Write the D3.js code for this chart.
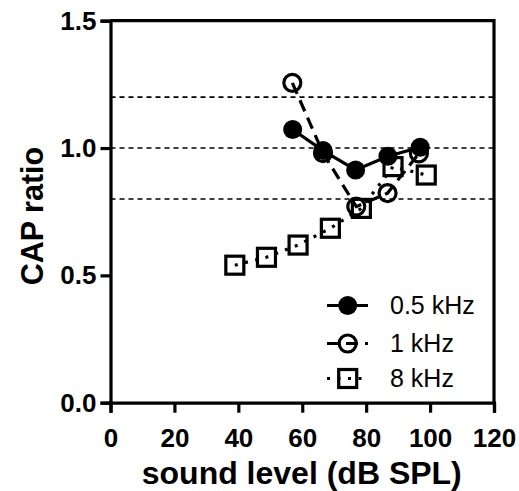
<!DOCTYPE html>
<html>
<head>
<meta charset="utf-8">
<script src="https://cdn.jsdelivr.net/npm/d3@7/dist/d3.min.js"></script>
<style>
  html, body { margin: 0; padding: 0; background: #fff; }
  svg { display: block; font-family: "Liberation Sans", Arial, sans-serif; }
</style>
</head>
<body>
<svg id="chart" width="519" height="491"></svg>
<script>
// CAP ratio versus sound level for three stimulus frequencies
const seriesNames = ["0.5 kHz", "1 kHz", "8 kHz"];
const levels05 = [57, 66.5, 76.7, 86.8, 96.9];
const ratio05  = [1.073, 0.99, 0.914, 0.968, 1.003];
const levels1  = [56.9, 66.5, 76.9, 86.7, 96.5];
const ratio1   = [1.256, 0.98, 0.77, 0.823, 0.979];
const levels8  = [38.9, 48.8, 58.7, 68.8, 78.5, 88.4, 98.8];
const ratio8   = [0.54, 0.571, 0.619, 0.685, 0.763, 0.927, 0.894];
const xTicks = [0, 20, 40, 60, 80, 100, 120];
const yTicks = [0.0, 0.5, 1.0, 1.5];
const refLines = [1.2, 1.0, 0.8];

const svg = d3.select("#chart");
const plotLeft = 110.5, plotRight = 494, plotTop = 20.7, plotBottom = 402.7;

const x = d3.scaleLinear().domain([0, 120]).range([plotLeft, plotRight]);
const y = d3.scaleLinear().domain([0, 1.5]).range([plotBottom, plotTop]);

// dashed reference lines
svg.append("g").selectAll("line").data(refLines).join("line")
  .attr("x1", plotLeft).attr("x2", plotRight)
  .attr("y1", d => y(d)).attr("y2", d => y(d))
  .attr("stroke", "#000").attr("stroke-width", 1.6)
  .attr("stroke-dasharray", "5,4");

// frame (top and right edges)
svg.append("path")
  .attr("d", `M${plotLeft},${plotTop}H${plotRight}V${plotBottom}`)
  .attr("fill", "none").attr("stroke", "#000").attr("stroke-width", 3.2);

// axes
const xAxis = svg.append("g").attr("transform", `translate(0,${plotBottom})`)
  .call(d3.axisBottom(x).tickValues(xTicks).tickSize(10).tickPadding(19).tickFormat(d3.format("d")));
const yAxis = svg.append("g").attr("transform", `translate(${plotLeft},0)`)
  .call(d3.axisLeft(y).tickValues(yTicks).tickSize(10).tickPadding(4).tickFormat(d3.format(".1f")));
[xAxis, yAxis].forEach(g => {
  g.select(".domain").attr("stroke", "#000").attr("stroke-width", 3.2);
  g.selectAll(".tick line").attr("stroke", "#000").attr("stroke-width", 3.2);
  g.selectAll("text").attr("fill", "#000").attr("font-size", 26).attr("font-weight", "bold")
    .attr("font-family", "Liberation Sans, Arial, sans-serif");
});
xAxis.selectAll(".tick text").attr("dy", "0.6em");

// axis titles
svg.append("text")
  .attr("x", (plotLeft + plotRight) / 2 - 0.5).attr("y", 484)
  .attr("text-anchor", "middle").attr("font-size", 32).attr("font-weight", "bold")
  .text("sound level (dB SPL)");
svg.append("text")
  .attr("transform", "translate(43,216) rotate(-90)")
  .attr("text-anchor", "middle").attr("font-size", 30.5).attr("font-weight", "bold")
  .text("CAP ratio");

const styles = [
  { xs: levels05, ys: ratio05, dash: null, marker: "filled" },
  { xs: levels1,  ys: ratio1,  dash: "12,7", marker: "circle" },
  { xs: levels8,  ys: ratio8,  dash: "3,7.5", marker: "square" }
];

function drawMarker(g, kind, cx, cy) {
  if (kind === "filled") {
    g.append("circle").attr("cx", cx).attr("cy", cy).attr("r", 9.5).attr("fill", "#000");
  } else if (kind === "circle") {
    g.append("circle").attr("cx", cx).attr("cy", cy).attr("r", 8.5)
      .attr("fill", "none").attr("stroke", "#000").attr("stroke-width", 3.2);
  } else {
    g.append("rect").attr("x", cx - 9).attr("y", cy - 9).attr("width", 18).attr("height", 18)
      .attr("fill", "none").attr("stroke", "#000").attr("stroke-width", 3.2);
  }
}

const line = d3.line().x(d => x(d[0])).y(d => y(d[1]));
const drawOrder = [2, 1, 0];
drawOrder.forEach(i => {
  const s = styles[i];
  const pts = s.xs.map((v, k) => [v, s.ys[k]]);
  const g = svg.append("g");
  g.append("path").datum(pts).attr("d", line)
    .attr("fill", "none").attr("stroke", "#000").attr("stroke-width", 3.2)
    .attr("stroke-dasharray", s.dash);
  pts.forEach(p => drawMarker(g, s.marker, x(p[0]), y(p[1])));
});

// legend
const legendRows = [305.5, 343.5, 378.5];
styles.forEach((s, i) => {
  const g = svg.append("g");
  const ly = legendRows[i];
  g.append("line").attr("x1", 327).attr("x2", 368).attr("y1", ly).attr("y2", ly)
    .attr("stroke", "#000").attr("stroke-width", 3.2).attr("stroke-dasharray", s.dash);
  drawMarker(g, s.marker, 347.7, ly);
  g.append("text").attr("x", 390).attr("y", ly + 8.5)
    .attr("font-size", 25).attr("fill", "#000").text(seriesNames[i]);
});
</script>
</body>
</html>
